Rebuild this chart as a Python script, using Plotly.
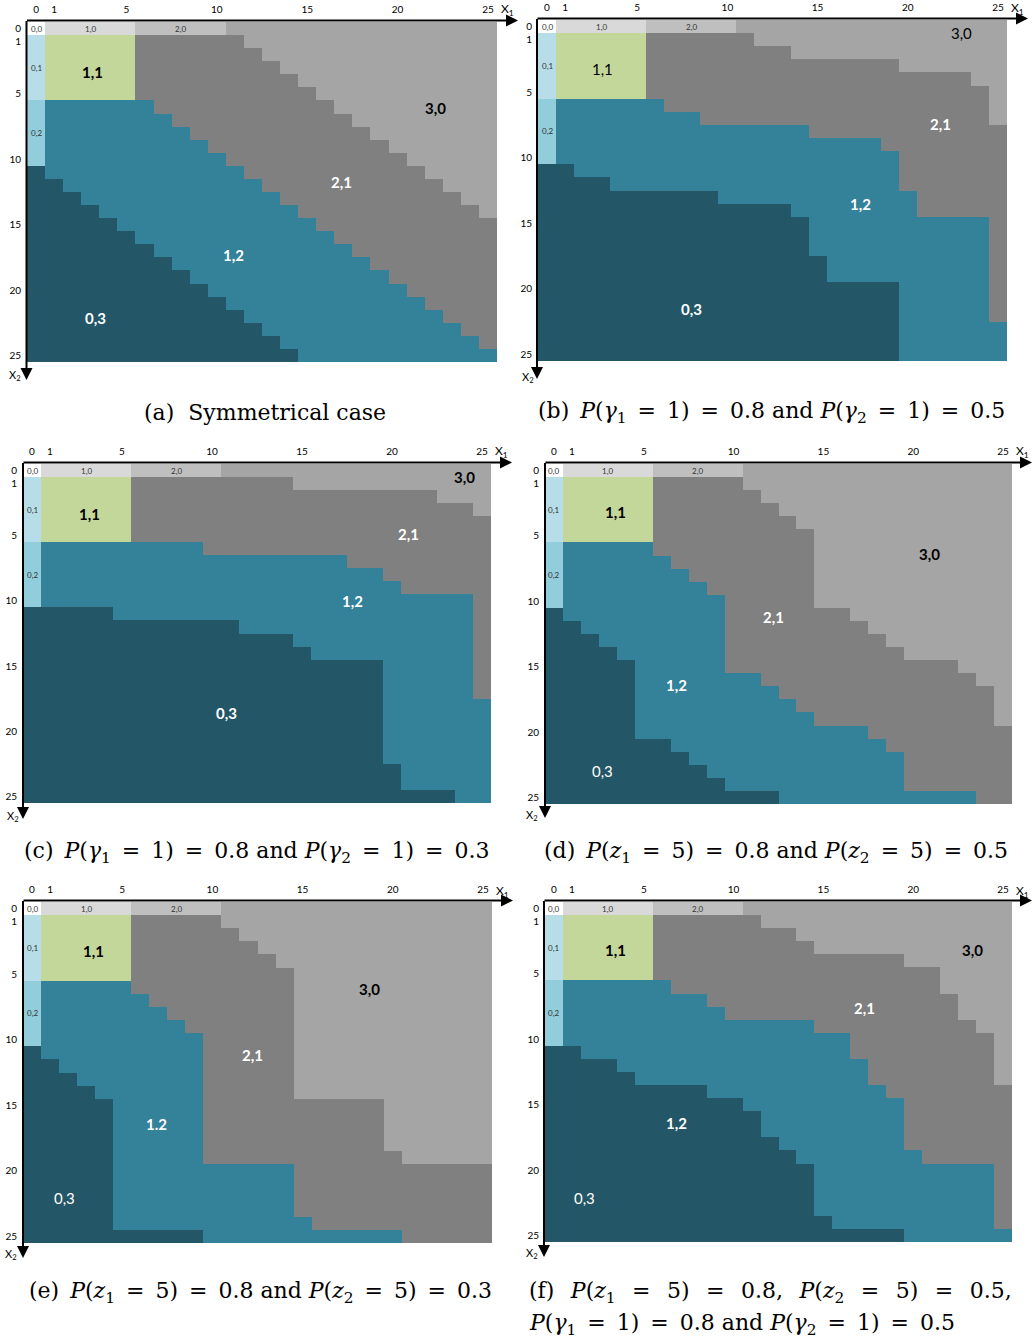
import plotly.graph_objects as go

W, H = 1034, 1343

# ---------------- data ----------------
X1_VALUES = list(range(26))          # x1 grid (columns)
X2_VALUES = list(range(26))          # x2 grid (rows)
TICK_VALUES = [0, 1, 5, 10, 15, 20, 25]
TICK_TEXT = ["0", "1", "5", "10", "15", "20", "25"]

REGIONS = ["0,0", "1,0", "2,0", "3,0", "0,1", "1,1", "2,1", "0,2", "1,2", "0,3"]
REGION_COLORS = ["#ffffff", "#d9d9d9", "#bfbfbf", "#a5a5a5", "#b7dde8",
                 "#c4d79b", "#808080", "#92cddc", "#34819a", "#235666"]

# fixed blocks: last index of the first / second block along the axes
BLOCK_ONE_END = 5
BLOCK_TWO_END = 10

# per panel, per column x1: first x2 row of region 2,1 / 1,2 / 0,3
A_START_21 = [1,1,1,1,1,1,1,1,1,1,1, 1,2,3,4,5,6,7,8,9,10,11,12,13,14,15]
A_START_12 = [6,6,6,6,6,6, 6,7,8,9,10, 11,12,13,14,15,16,17,18,19,20,21,22,23,24,25]
A_START_03 = [11,12,13,14,15,16,17,18,19,20,21,22,23,24,25,26,26,26,26,26,26,26,26,26,26,26]

B_START_21 = [1,1,1,1,1,1,1,1,1,1,1, 1,2,2,3,3,3,3,3,3,4,4,4,4,5,8]
B_START_12 = [6,6,6,6,6,6, 6,7,7,8,8,8,8,8,8, 9,9,9,9,10,13,15,15,15,15,23]
B_START_03 = [11,11,12,12,13,13,13,13,13,13,14,14,14,14,15,18,20,20,20,20,26,26,26,26,26,26]

C_START_21 = [1,1,1,1,1,1,1,1,1,1,1,1,1,1,1, 2,2,2,2,2,2,2,2,3,3,4]
C_START_12 = [6,6,6,6,6,6,6,6,6,6, 7,7,7,7,7,7,7,7, 8,8,9,10,10,10,10,18]
C_START_03 = [11,11,11,11,11,12,12,12,12,12,12,12,13,13,13,14,15,15,15,15,23,25,25,25,26,26]

D_START_21 = [1,1,1,1,1,1,1,1,1,1,1, 2,3,4,5,11,11,12,13,14,15,15,15,16,17,20]
D_START_12 = [6,6,6,6,6,6, 7,8,9,10,16,16,17,18,19,20,20,20,21,22,25,25,25,25,26,26]
D_START_03 = [11,12,13,14,15,21,21,22,23,24,25,25,25,26,26,26,26,26,26,26,26,26,26,26,26,26]

E_START_21 = [1,1,1,1,1,1,1,1,1,1,1, 2,3,4,5,15,15,15,15,15,19,20,20,20,20,20]
E_START_12 = [6,6,6,6,6,6, 7,8,9,10,20,20,20,20,20,24,25,25,25,25,25,26,26,26,26,26]
E_START_03 = [11,12,13,14,15,25,25,25,25,25,26,26,26,26,26,26,26,26,26,26,26,26,26,26,26,26]

F_START_21 = [1,1,1,1,1,1,1,1,1,1,1, 1,2,2,3,4,4,4,4,4,5,5,7,9,10,14]
F_START_12 = [6,6,6,6,6,6, 6,7,7,8,9,9,9,9,9,10,10,12,14,15,19,20,20,20,20,25]
F_START_03 = [11,11,12,12,13,14,14,14,14,15,15,16,18,19,20,24,25,25,25,25,26,26,26,26,26,26]

EQ = "\u2002=\u2002"
SP = "\u2002"
FEQ = "\u2002\u2005=\u2002\u2005"
FSP = "\u2002\u2005"
CAPTIONS = [
    "(a)\u00a0 Symmetrical case",
    f"(b){SP}<i>P</i>(<i>γ</i><sub>1</sub>{EQ}1){EQ}0.8 and <i>P</i>(<i>γ</i><sub>2</sub>{EQ}1){EQ}0.5",
    f"(c){SP}<i>P</i>(<i>γ</i><sub>1</sub>{EQ}1){EQ}0.8 and <i>P</i>(<i>γ</i><sub>2</sub>{EQ}1){EQ}0.3",
    f"(d){SP}<i>P</i>(<i>z</i><sub>1</sub>{EQ}5){EQ}0.8 and <i>P</i>(<i>z</i><sub>2</sub>{EQ}5){EQ}0.5",
    f"(e){SP}<i>P</i>(<i>z</i><sub>1</sub>{EQ}5){EQ}0.8 and <i>P</i>(<i>z</i><sub>2</sub>{EQ}5){EQ}0.3",
]
CAPTION_F1 = (f"(f){FSP}<i>P</i>(<i>z</i><sub>1</sub>{FEQ}5){FEQ}0.8,{FSP}"
              f"<i>P</i>(<i>z</i><sub>2</sub>{FEQ}5){FEQ}0.5,")
CAPTION_F2 = f"<i>P</i>(<i>γ</i><sub>1</sub>{EQ}1){EQ}0.8 and <i>P</i>(<i>γ</i><sub>2</sub>{EQ}1){EQ}0.5"

# region labels: (text, x1, x2, dark text?, bold?)
LABELS = [
    [("1,1", 3.1, 3.3, True, True), ("3,0", 22.1, 6.1, True, True), ("2,1", 16.9, 11.7, False, True),
     ("1,2", 10.95, 17.3, False, True), ("0,3", 3.3, 22.1, False, True)],
    [("1,1", 3.1, 3.2, True, False), ("3,0", 23.0, 0.5, True, False), ("2,1", 21.8, 7.4, False, True),
     ("1,2", 17.4, 13.5, False, True), ("0,3", 8.0, 21.5, False, True)],
    [("1,1", 3.2, 3.3, True, True), ("3,0", 24.0, 0.5, True, True), ("2,1", 20.9, 4.9, False, True),
     ("1,2", 17.8, 10.0, False, True), ("0,3", 10.8, 18.6, False, True)],
    [("1,1", 3.4, 3.2, True, True), ("3,0", 20.9, 6.4, True, True), ("2,1", 12.2, 11.2, False, True),
     ("1,2", 6.8, 16.4, False, True), ("0,3", 2.7, 23.0, False, False)],
    [("1,1", 3.4, 3.2, True, True), ("3,0", 18.7, 6.1, True, True), ("2,1", 12.2, 11.2, False, True),
     ("1.2", 6.9, 16.4, False, True), ("0,3", 1.8, 22.1, False, False)],
    [("1,1", 3.4, 3.2, True, True), ("3,0", 23.3, 3.2, True, True), ("2,1", 17.3, 7.6, False, True),
     ("1,2", 6.8, 16.4, False, True), ("0,3", 1.7, 22.1, False, False)],
]
SMALL_LABELS = [("0,0", 0, 0), ("1,0", 3, 0), ("2,0", 8, 0), ("0,1", 0, 3), ("0,2", 0, 8)]

# ---------------- layout (pixels) ----------------
PANELS = [
    dict(box=(27, 497, 22, 362), hy=20.5, htip=518, vx=26.5, vtip=380, l1=(507, 10), l2=(15, 376)),
    dict(box=(538, 1007, 20, 361), hy=18.5, htip=1028, vx=537, vtip=379, l1=(1017, 8), l2=(528, 377)),
    dict(box=(23, 491, 464, 803), hy=462.5, htip=512, vx=23, vtip=819, l1=(501, 452), l2=(13, 816)),
    dict(box=(545, 1012, 464, 804), hy=462.5, htip=1032, vx=545, vtip=818, l1=(1022, 452), l2=(532, 815)),
    dict(box=(23, 492, 902, 1243), hy=900.5, htip=513, vx=23, vtip=1258, l1=(502, 891), l2=(11, 1254)),
    dict(box=(545, 1012, 902, 1242), hy=900.5, htip=1032, vx=544, vtip=1257, l1=(1022, 891), l2=(532, 1253)),
]
CAPTION_POS = [(265, 413), (771, 413), (256, 852), (776, 852), (260, 1292)]
CAPTION_F_POS = [(527, 1292), (527, 1324)]

STARTS = [
    (A_START_21, A_START_12, A_START_03),
    (B_START_21, B_START_12, B_START_03),
    (C_START_21, C_START_12, C_START_03),
    (D_START_21, D_START_12, D_START_03),
    (E_START_21, E_START_12, E_START_03),
    (F_START_21, F_START_12, F_START_03),
]


def region_of(r, c, s21, s12, s03):
    if r == 0:
        if c == 0:
            return "0,0"
        if c <= BLOCK_ONE_END:
            return "1,0"
        if c <= BLOCK_TWO_END:
            return "2,0"
        return "3,0"
    if c == 0:
        if r <= BLOCK_ONE_END:
            return "0,1"
        if r <= BLOCK_TWO_END:
            return "0,2"
        return "0,3"
    if c <= BLOCK_ONE_END and r <= BLOCK_ONE_END:
        return "1,1"
    if r < s21[c]:
        return "3,0"
    if r < s12[c]:
        return "2,1"
    if r < s03[c]:
        return "1,2"
    return "0,3"


n = len(REGIONS)
colorscale = []
for i, col in enumerate(REGION_COLORS):
    colorscale.append([i / n, col])
    colorscale.append([(i + 1) / n, col])


def px(x):
    return x / W


def py(y):
    return 1 - y / H


fig = go.Figure()
annotations = []
layout_axes = {}
FONT = "Lato"

for k, (panel, (s21, s12, s03)) in enumerate(zip(PANELS, STARTS)):
    idx = k + 1
    xa = "x" if idx == 1 else f"x{idx}"
    ya = "y" if idx == 1 else f"y{idx}"
    z = [[REGIONS.index(region_of(r, c, s21, s12, s03)) for c in X1_VALUES] for r in X2_VALUES]
    fig.add_trace(go.Heatmap(
        z=z, x=X1_VALUES, y=X2_VALUES, xaxis=xa, yaxis=ya,
        colorscale=colorscale, zmin=-0.5, zmax=n - 0.5, showscale=False,
        hoverinfo="skip", zsmooth=False))
    l, r_, t, b = panel["box"]
    layout_axes["xaxis" if idx == 1 else f"xaxis{idx}"] = dict(
        domain=[px(l), px(r_)], range=[-0.5, 25.5], side="top", anchor=ya,
        tickvals=TICK_VALUES, ticktext=TICK_TEXT, showgrid=False, zeroline=False,
        showline=False, ticks="", tickfont=dict(family=FONT, size=10, color="#000"),
        ticklabelstandoff=6, fixedrange=True)
    layout_axes["yaxis" if idx == 1 else f"yaxis{idx}"] = dict(
        domain=[py(b), py(t)], range=[25.5, -0.5], anchor=xa,
        tickvals=TICK_VALUES, ticktext=TICK_TEXT, showgrid=False, zeroline=False,
        showline=False, ticks="", tickfont=dict(family=FONT, size=10, color="#000"),
        ticklabelstandoff=5, fixedrange=True)

    # axis arrows
    annotations.append(dict(x=px(panel["htip"]), y=py(panel["hy"]), xref="paper", yref="paper",
                            ax=panel["vx"] - panel["htip"] - 1, ay=0, text="", showarrow=True,
                            arrowhead=2, arrowsize=1.2, arrowwidth=2, arrowcolor="#000",
                            standoff=0, startstandoff=0))
    annotations.append(dict(x=px(panel["vx"]), y=py(panel["vtip"]), xref="paper", yref="paper",
                            ax=0, ay=panel["hy"] - panel["vtip"] - 1, text="", showarrow=True,
                            arrowhead=2, arrowsize=1.2, arrowwidth=2, arrowcolor="#000",
                            standoff=0, startstandoff=0))
    annotations.append(dict(x=px(panel["l1"][0]), y=py(panel["l1"][1]), xref="paper", yref="paper",
                            text="X<sub>1</sub>", showarrow=False, xanchor="center", yanchor="middle",
                            font=dict(family=FONT, size=12, color="#000")))
    annotations.append(dict(x=px(panel["l2"][0]), y=py(panel["l2"][1]), xref="paper", yref="paper",
                            text="X<sub>2</sub>", showarrow=False, xanchor="center", yanchor="middle",
                            font=dict(family=FONT, size=11, color="#000")))

    for text, lx, ly in SMALL_LABELS:
        annotations.append(dict(x=lx, y=ly, xref=xa, yref=ya, text=text, showarrow=False,
                                font=dict(family=FONT, size=8, color="#333")))
    for text, lx, ly, dark, bold in LABELS[k]:
        annotations.append(dict(x=lx, y=ly, xref=xa, yref=ya,
                                text=f"<b>{text}</b>" if bold else text, showarrow=False,
                                font=dict(family=FONT, size=15, color="#000" if dark else "#fff")))

CAP_FONT = dict(family="DejaVu Serif", size=22, color="#000")
for text, (cx, cy) in zip(CAPTIONS, CAPTION_POS):
    annotations.append(dict(x=px(cx), y=py(cy), xref="paper", yref="paper", text=text,
                            showarrow=False, font=CAP_FONT, xanchor="center", yanchor="middle"))
for text, (cx, cy) in zip([CAPTION_F1, CAPTION_F2], CAPTION_F_POS):
    annotations.append(dict(x=px(cx), y=py(cy), xref="paper", yref="paper", text=text,
                            showarrow=False, font=CAP_FONT, xanchor="left", yanchor="middle"))

fig.update_layout(width=W, height=H, margin=dict(l=0, r=0, t=0, b=0),
                  paper_bgcolor="#fff", plot_bgcolor="#fff", showlegend=False,
                  annotations=annotations, **layout_axes)

fig.write_html("out.html")
